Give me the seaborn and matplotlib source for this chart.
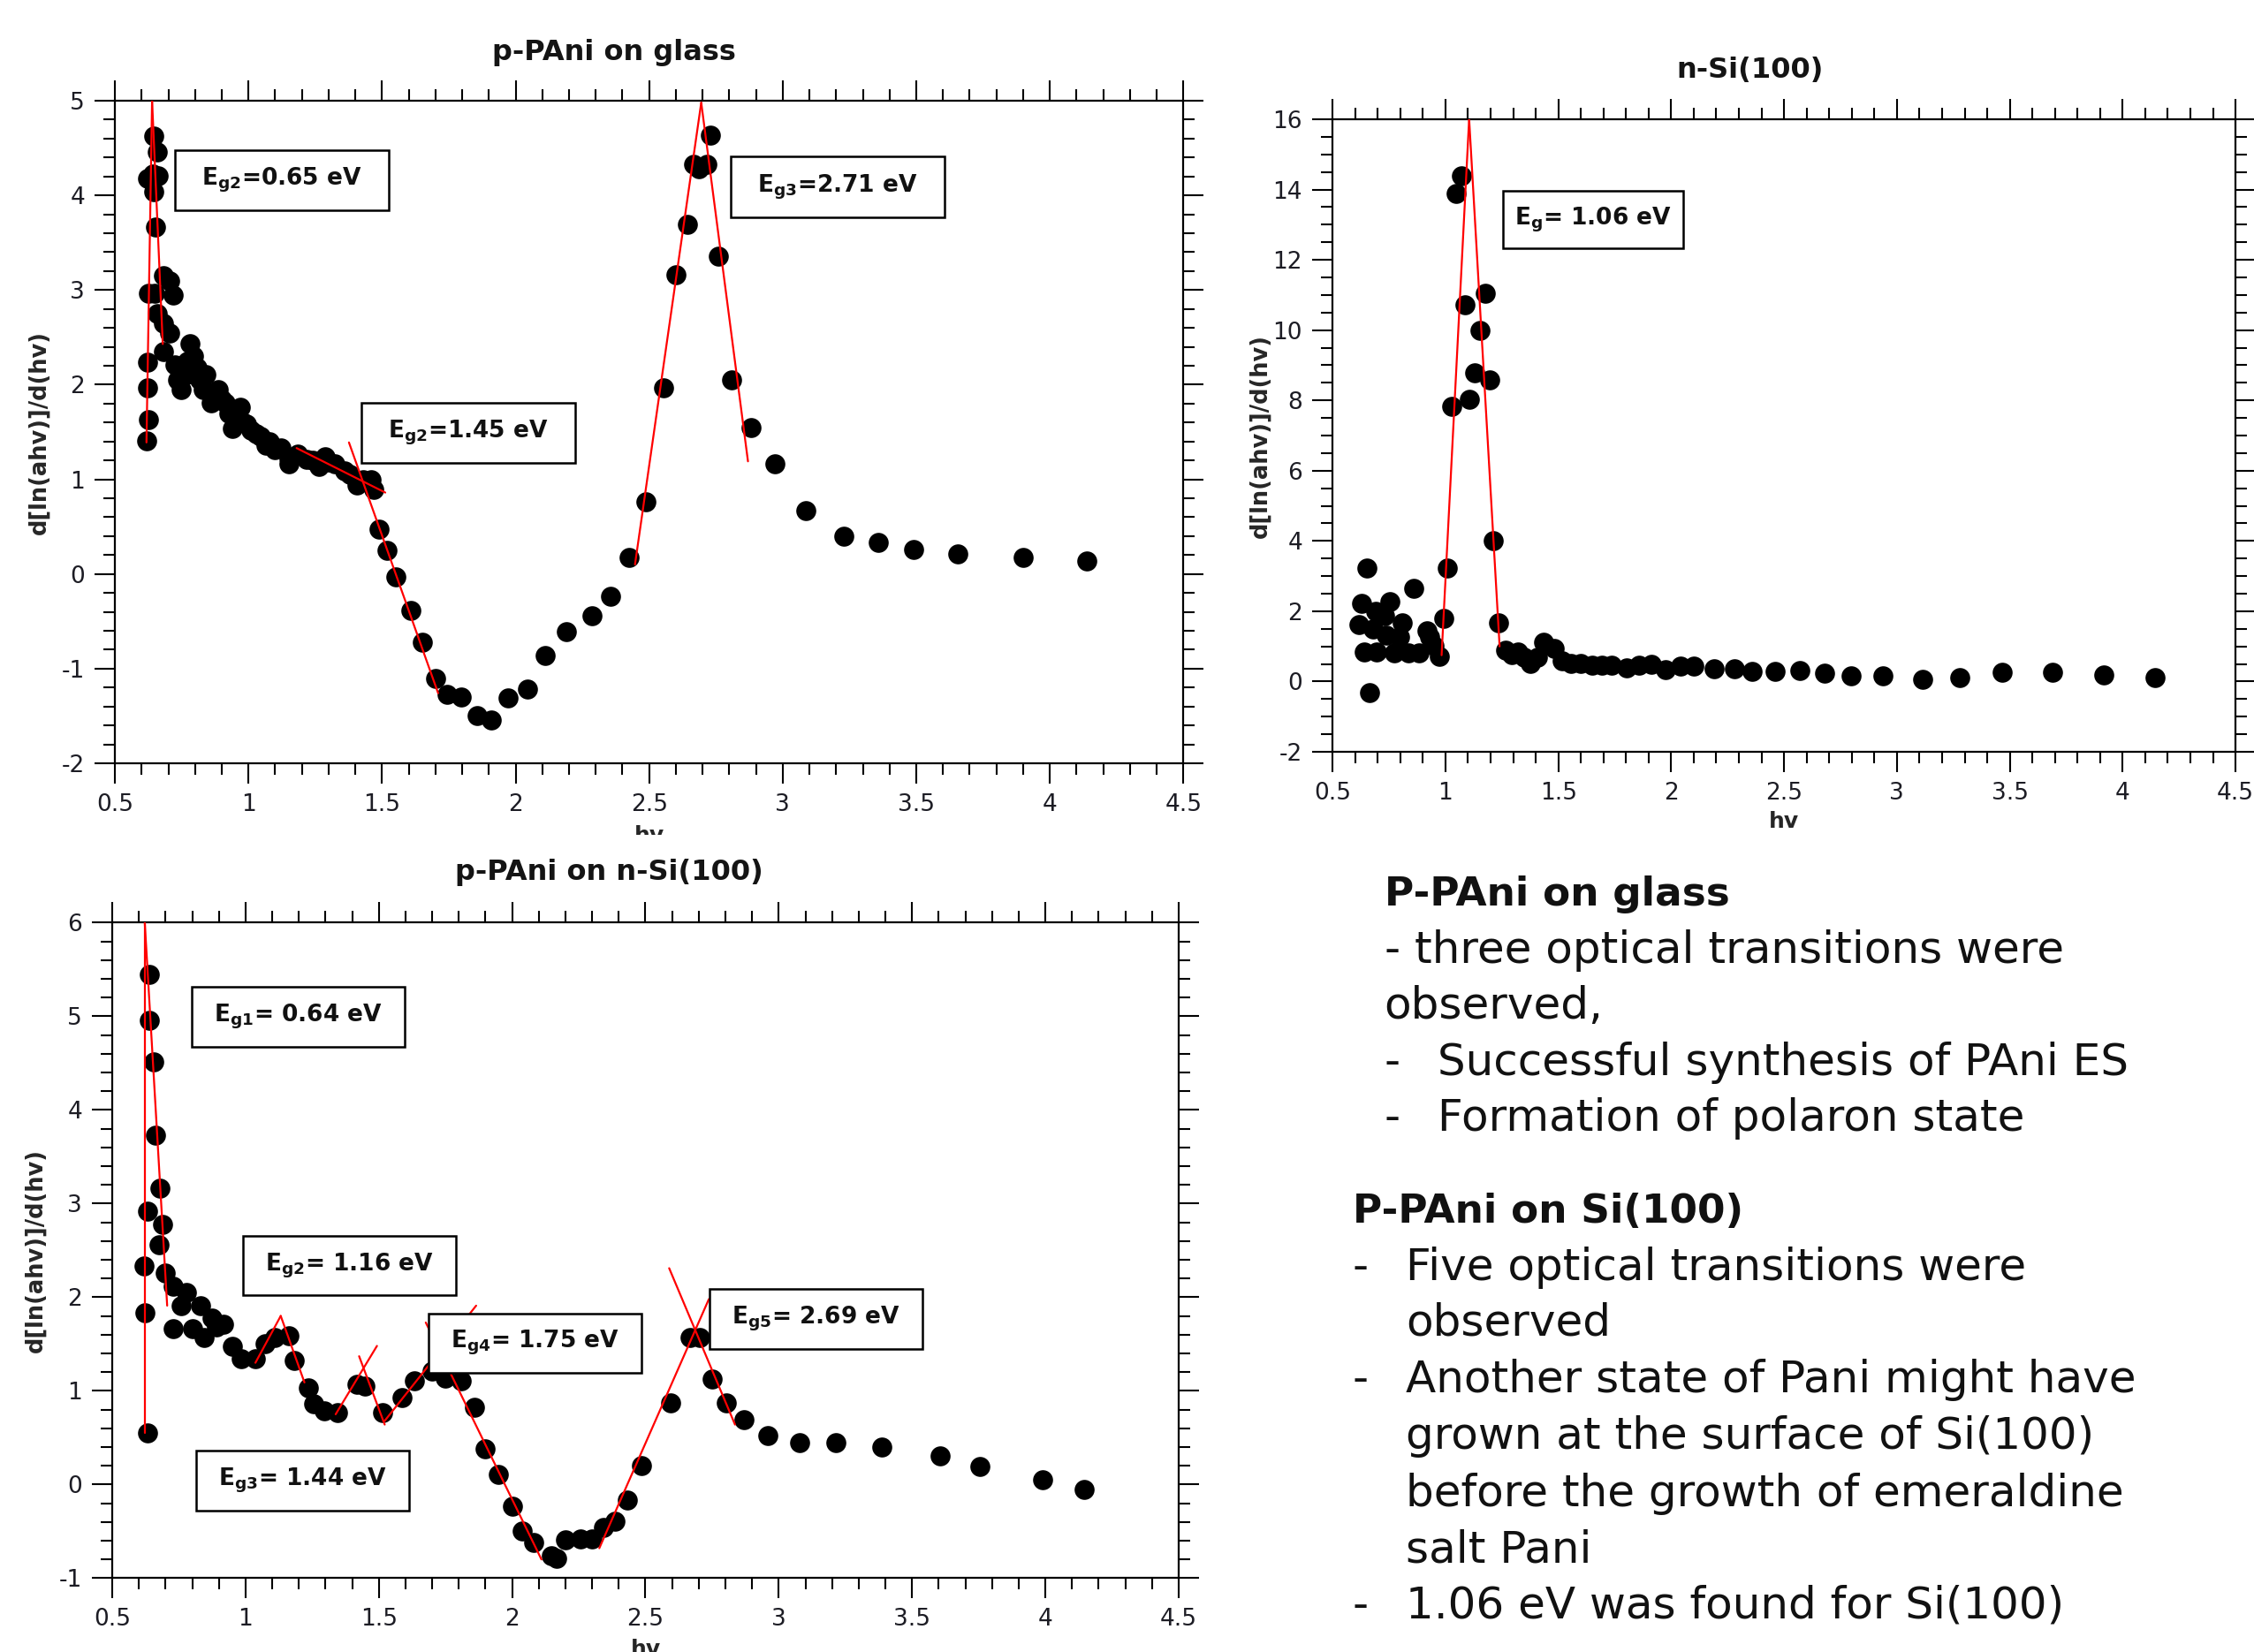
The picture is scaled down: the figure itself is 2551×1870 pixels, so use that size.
import numpy as np
import pandas as pd
import matplotlib
matplotlib.use('Agg')
import matplotlib.pyplot as plt
import seaborn as sns
from matplotlib.ticker import MultipleLocator, FuncFormatter
from matplotlib.patches import Rectangle
from matplotlib.transforms import Bbox, TransformedBbox

# ---- p-PAni on glass ----
glass_hv = [0.618, 0.624, 0.621, 0.621, 0.624, 0.621, 0.641, 0.645, 0.659, 0.662,
            0.644, 0.651, 0.647, 0.659, 0.682, 0.706, 0.718, 0.682, 0.706, 0.682,
            0.724, 0.735, 0.747, 0.747, 0.760, 0.771, 0.782, 0.795, 0.806, 0.818,
            0.830, 0.841, 0.859, 0.870, 0.888, 0.900, 0.912, 0.925, 0.941, 0.955,
            0.971, 0.980, 0.994, 1.010, 1.029, 1.045, 1.065, 1.080, 1.100, 1.120,
            1.153, 1.153, 1.185, 1.218, 1.240, 1.265, 1.288, 1.300, 1.324, 1.359,
            1.380, 1.406, 1.430, 1.459, 1.470, 1.488, 1.518, 1.553, 1.608, 1.652,
            1.700, 1.745, 1.797, 1.856, 1.908, 1.972, 2.045, 2.112, 2.190, 2.287,
            2.357, 2.424, 2.488, 2.555, 2.600, 2.643, 2.667, 2.686, 2.716, 2.730,
            2.760, 2.810, 2.880, 2.970, 3.086, 3.230, 3.357, 3.490, 3.655, 3.900,
            4.138]
glass_d = [1.41, 1.63, 1.97, 2.24, 2.97, 4.18, 4.23, 4.63, 4.46, 4.21,
           4.04, 3.67, 2.97, 2.75, 3.15, 3.10, 2.95, 2.65, 2.55, 2.35,
           2.21, 2.05, 2.15, 1.95, 2.10, 2.25, 2.43, 2.30, 2.18, 2.05,
           1.95, 2.11, 1.81, 1.90, 1.95, 1.85, 1.81, 1.70, 1.54, 1.62,
           1.76, 1.60, 1.58, 1.52, 1.48, 1.45, 1.36, 1.40, 1.31, 1.33,
           1.22, 1.16, 1.27, 1.21, 1.20, 1.14, 1.24, 1.18, 1.16, 1.09,
           1.05, 0.94, 1.00, 1.00, 0.89, 0.47, 0.25, -0.03, -0.39, -0.72,
           -1.10, -1.27, -1.30, -1.50, -1.54, -1.31, -1.22, -0.86, -0.61, -0.44,
           -0.24, 0.17, 0.76, 1.97, 3.16, 3.69, 4.33, 4.28, 4.33, 4.64,
           3.36, 2.05, 1.55, 1.16, 0.67, 0.40, 0.33, 0.26, 0.21, 0.17,
           0.14]
glass_fit_hv = [(0.618, 0.639), (0.639, 0.679), (1.18, 1.512), (1.376, 1.71),
                (2.447, 2.695), (2.695, 2.87)]
glass_fit_d = [(1.39, 5.0), (5.0, 2.43), (1.33, 0.86), (1.39, -1.26),
               (0.10, 4.98), (4.98, 1.19)]
glass_labels = [r'E$_{\mathbf{g2}}$=0.65 eV', r'E$_{\mathbf{g2}}$=1.45 eV', r'E$_{\mathbf{g3}}$=2.71 eV']
glass_label_hv = [1.124, 1.822, 3.205]
glass_label_d = [4.16, 1.49, 4.09]

# ---- n-Si(100) ----
si_hv = [0.615, 0.627, 0.653, 0.639, 0.665, 0.691, 0.696, 0.679, 0.731, 0.752,
         0.740, 0.774, 0.809, 0.795, 0.835, 0.858, 0.882, 0.920, 0.930, 0.948,
         0.974, 0.991, 1.009, 1.029, 1.047, 1.070, 1.087, 1.105, 1.131, 1.154,
         1.177, 1.195, 1.212, 1.234, 1.266, 1.295, 1.321, 1.347, 1.378, 1.408,
         1.434, 1.483, 1.517, 1.556, 1.599, 1.651, 1.694, 1.738, 1.802, 1.859,
         1.911, 1.977, 2.042, 2.102, 2.189, 2.280, 2.358, 2.462, 2.571, 2.680,
         2.797, 2.936, 3.116, 3.279, 3.465, 3.689, 3.916, 4.145]
si_d = [1.62, 2.23, 3.22, 0.85, -0.32, 2.00, 0.85, 1.49, 1.87, 2.28,
        1.32, 0.81, 1.66, 1.28, 0.81, 2.64, 0.81, 1.45, 1.28, 1.02,
        0.72, 1.80, 3.22, 7.84, 13.9, 14.4, 10.71, 8.04, 8.79, 9.99,
        11.04, 8.59, 4.00, 1.66, 0.89, 0.77, 0.85, 0.68, 0.51, 0.68,
        1.11, 0.95, 0.60, 0.51, 0.51, 0.47, 0.47, 0.47, 0.38, 0.47,
        0.49, 0.34, 0.43, 0.43, 0.36, 0.37, 0.30, 0.30, 0.31, 0.24,
        0.17, 0.17, 0.05, 0.12, 0.27, 0.27, 0.20, 0.12]
si_fit_hv = [(0.983, 1.105), (1.105, 1.24)]
si_fit_d = [(0.75, 16.0), (16.0, 1.0)]
si_labels = [r'E$_{\mathbf{g}}$= 1.06 eV']
si_label_hv = [1.655]
si_label_d = [13.15]

# ---- p-PAni on n-Si(100) ----
psi_hv = [0.640, 0.640, 0.654, 0.662, 0.679, 0.632, 0.688, 0.674, 0.618, 0.622,
          0.632, 0.699, 0.728, 0.779, 0.757, 0.728, 0.831, 0.801, 0.846, 0.875,
          0.890, 0.919, 0.949, 0.985, 1.037, 1.074, 1.110, 1.162, 1.184, 1.235,
          1.257, 1.294, 1.346, 1.419, 1.449, 1.515, 1.588, 1.632, 1.699, 1.750,
          1.809, 1.860, 1.897, 1.949, 2.000, 2.037, 2.081, 2.147, 2.167, 2.200,
          2.257, 2.300, 2.342, 2.386, 2.433, 2.485, 2.593, 2.669, 2.703, 2.751,
          2.804, 2.869, 2.960, 3.078, 3.213, 3.388, 3.606, 3.753, 3.990, 4.144]
psi_d = [5.45, 4.96, 4.51, 3.73, 3.16, 2.92, 2.78, 2.56, 2.33, 1.83,
         0.55, 2.26, 2.12, 2.05, 1.91, 1.66, 1.91, 1.66, 1.57, 1.78,
         1.68, 1.71, 1.48, 1.34, 1.34, 1.50, 1.57, 1.59, 1.32, 1.03,
         0.86, 0.79, 0.77, 1.07, 1.05, 0.77, 0.93, 1.11, 1.21, 1.14,
         1.11, 0.82, 0.38, 0.11, -0.23, -0.50, -0.62, -0.76, -0.79, -0.59,
         -0.58, -0.58, -0.46, -0.39, -0.17, 0.20, 0.87, 1.57, 1.57, 1.13,
         0.87, 0.69, 0.52, 0.45, 0.45, 0.40, 0.31, 0.19, 0.05, -0.05]
psi_fit_hv = [(0.622, 0.622), (0.622, 0.706), (1.037, 1.132), (1.132, 1.221),
              (1.338, 1.493), (1.426, 1.522), (1.522, 1.865), (1.676, 2.11),
              (2.327, 2.738), (2.589, 2.836)]
psi_fit_d = [(0.55, 6.0), (6.0, 1.91), (1.30, 1.80), (1.80, 1.09),
             (0.75, 1.48), (1.37, 0.64), (0.68, 1.91), (1.73, -0.80),
             (-0.68, 1.98), (2.31, 0.64)]
psi_labels = [r'E$_{\mathbf{g1}}$= 0.64 eV', r'E$_{\mathbf{g2}}$= 1.16 eV', r'E$_{\mathbf{g3}}$= 1.44 eV',
              r'E$_{\mathbf{g4}}$= 1.75 eV', r'E$_{\mathbf{g5}}$= 2.69 eV']
psi_label_hv = [1.197, 1.389, 1.215, 2.086, 3.14]
psi_label_d = [4.996, 2.34, 0.04, 1.51, 1.77]

sns.set_theme(style='ticks')
plt.rcParams['font.family'] = ['DejaVu Sans']
plt.rcParams['axes.unicode_minus'] = False
plt.rcParams['mathtext.fontset'] = 'dejavusans'

fig = plt.figure(figsize=(25.51, 18.70), dpi=100)
ax_glass = fig.add_axes([0.051, 0.538, 0.474, 0.401])
ax_si = fig.add_axes([0.5912, 0.5449, 0.4006, 0.3829])
ax_psi = fig.add_axes([0.0498, 0.0447, 0.4731, 0.3968])


def panel(ax, hv, d, fit_hv, fit_d, labels, lab_hv, lab_d, ylim, ystep, yminor,
          title, tx, tpad, ylab_x):
    pts = pd.DataFrame({'hv': hv, 'd': d})
    sns.scatterplot(data=pts, x='hv', y='d', color='black', s=265, linewidth=0, ax=ax, zorder=3)
    rows = []
    for i, (xs, ys) in enumerate(zip(fit_hv, fit_d)):
        for x, y in zip(xs, ys):
            rows.append({'seg': i, 'hv': x, 'd': y})
    fit = pd.DataFrame(rows)
    sns.lineplot(data=fit, x='hv', y='d', units='seg', estimator=None, sort=False,
                 color='red', linewidth=1.6, ax=ax, zorder=4)
    ax.set_xlim(0.5, 4.5)
    ax.set_ylim(*ylim)
    ax.xaxis.set_major_locator(MultipleLocator(0.5))
    ax.xaxis.set_minor_locator(MultipleLocator(0.1))
    ax.yaxis.set_major_locator(MultipleLocator(ystep))
    ax.yaxis.set_minor_locator(MultipleLocator(yminor))
    fmt = FuncFormatter(lambda v, p: '%g' % v)
    ax.xaxis.set_major_formatter(fmt)
    ax.yaxis.set_major_formatter(fmt)
    ax.tick_params(which='both', direction='out', top=True, right=True, width=1.5, color='black')
    ax.tick_params(which='major', length=16.5, labelsize=19, pad=8, labelcolor='#1c1c24')
    ax.tick_params(which='minor', length=9.5)
    for s in ax.spines.values():
        s.set_linewidth(1.6)
        s.set_color('black')
    ax.set_title(title, fontsize=23, fontweight='bold', pad=tpad, color='#141414', x=tx)
    ax.set_xlabel('hv', fontsize=18, fontweight='bold')
    ax.set_ylabel('d[ln(ahv)]/d(hv)', fontsize=18.5, fontweight='bold')
    ax.xaxis.set_label_coords(0.5, -0.093)
    ax.yaxis.set_label_coords(ylab_x, 0.5)
    # annotation boxes
    h = 0.091 * (ylim[1] - ylim[0])
    for lab, x, y in zip(labels, lab_hv, lab_d):
        ax.add_patch(Rectangle((x - 0.4, y - h / 2), 0.8, h, fill=True, facecolor='white',
                               edgecolor='black', linewidth=1.8, zorder=5))
        ax.text(x, y, lab, ha='center', va='center', fontsize=19, fontweight='bold',
                color='#111111', zorder=6)


panel(ax_glass, glass_hv, glass_d, glass_fit_hv, glass_fit_d, glass_labels, glass_label_hv,
      glass_label_d, (-2, 5), 1, 0.2, 'p-PAni on glass', 0.467, 33, -0.06)
panel(ax_si, si_hv, si_d, si_fit_hv, si_fit_d, si_labels, si_label_hv, si_label_d,
      (-2, 16), 2, 0.5, 'n-Si(100)', 0.462, 34, -0.0675)
panel(ax_psi, psi_hv, psi_d, psi_fit_hv, psi_fit_d, psi_labels, psi_label_hv, psi_label_d,
      (-1, 6), 1, 0.2, 'p-PAni on n-Si(100)', 0.466, 35, -0.061)

# top-left "hv" is partly hidden in the original
lab = ax_glass.xaxis.label
lab.set_clip_on(True)
lab.set_clip_box(TransformedBbox(Bbox([[0, 0.4947], [1, 1]]), fig.transFigure))

# ---- notes on the right ----
W, H = 1568.0, 1149.0
notes = [
    (963, 622, 'P-PAni on glass', 'bold'),
    (963, 661, '- three optical transitions were', 'normal'),
    (963, 700, 'observed,', 'normal'),
    (963, 739, '-', 'normal'), (1000, 739, 'Successful synthesis of PAni ES', 'normal'),
    (963, 778, '-', 'normal'), (1000, 778, 'Formation of polaron state', 'normal'),
    (941, 843, 'P-PAni on Si(100)', 'bold'),
    (941, 882, '-', 'normal'), (978, 882, 'Five optical transitions were', 'normal'),
    (978, 920, 'observed', 'normal'),
    (941, 960, '-', 'normal'), (978, 960, 'Another state of Pani might have', 'normal'),
    (978, 999, 'grown at the surface of Si(100)', 'normal'),
    (978, 1039, 'before the growth of emeraldine', 'normal'),
    (978, 1078, 'salt Pani', 'normal'),
    (941, 1117, '-', 'normal'), (978, 1117, '1.06 eV was found for Si(100)', 'normal'),
]
for x, y, t, w in notes:
    fig.text(x / W, 1 - y / H, t, ha='left', va='center', fontsize=32.7 if w == 'bold' else 36,
             fontweight=w, color='#111111')

fig.savefig('out.png', dpi=100)
